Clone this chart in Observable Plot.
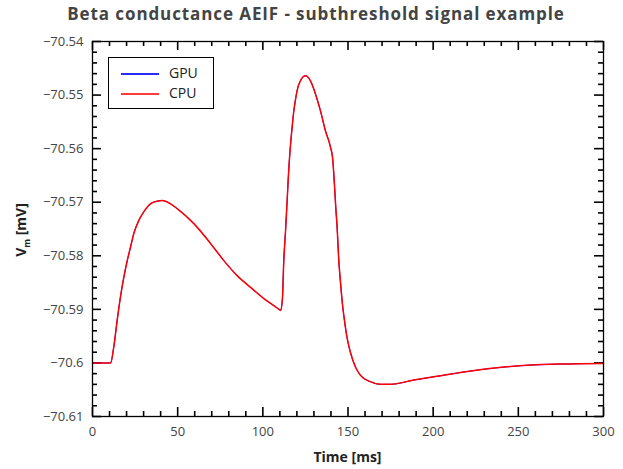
<!DOCTYPE html>
<html>
<head>
<meta charset="utf-8">
<script src="https://cdn.jsdelivr.net/npm/d3@7"></script>
<script src="https://cdn.jsdelivr.net/npm/@observablehq/plot@0.6"></script>
<style>
  body { margin: 0; background: #fff; }
  #wrap { position: relative; width: 623px; height: 469px; font-family: "Open Sans", sans-serif; }
  #title { position: absolute; left: 9px; top: 0; width: 614px; height: 28px; line-height: 27px; text-align: center; font-weight: bold; font-size: 17px; letter-spacing: 0.9px; color: #444; }
  #chart { position: absolute; left: 0; top: 30px; }
  #xlabel { position: absolute; left: 92px; width: 511px; top: 447px; text-align: center; font-weight: bold; font-size: 14px; color: #222; }
  #ylabel { position: absolute; left: 22px; top: 230px; transform: translate(-50%, -50%) rotate(-90deg); white-space: nowrap; font-weight: bold; font-size: 14px; color: #222; }
  #ylabel sub { font-size: 9px; }
  #legend { position: absolute; left: 108px; top: 57px; width: 106px; height: 52px; box-sizing: border-box; border: 1px solid #000; background: #fff; }
  .lg-line { position: absolute; left: 12px; width: 38px; height: 2px; }
  .lg-text { position: absolute; left: 60px; font-size: 14px; color: #222; line-height: 16px; }
</style>
</head>
<body>
<div id="wrap">
  <div id="title">Beta conductance AEIF - subthreshold signal example</div>
  <div id="chart"></div>
  <div id="xlabel">Time [ms]</div>
  <div id="ylabel">V<sub>m</sub> [mV]</div>
  <div id="legend">
    <div class="lg-line" style="top:15px;background:#2a2aff"></div>
    <div class="lg-text" style="top:7px">GPU</div>
    <div class="lg-line" style="top:35px;background:#ff3a3a"></div>
    <div class="lg-text" style="top:27px">CPU</div>
  </div>
</div>
<script>
const seriesNames = ["GPU", "CPU"];
const seriesColors = ["#0000ff", "#ff0000"];
const time = [0, 10, 10.6, 12.5, 14.5, 16.4, 18.4, 20.4, 22.3, 24.2, 27.2, 30.1, 34, 38, 41, 45.8, 49.7, 59.5, 69.3, 77.1, 84.9, 92.8, 100.6, 106.4, 110, 110.4, 111.5, 112.3, 113.3, 114.3, 115.2, 116.2, 117.2, 118.1, 119.1, 120.1, 122.1, 125, 127.9, 130.9, 133.8, 136.7, 139.7, 141, 142, 142.8, 143.6, 144.6, 145.5, 146.7, 147.9, 149.4, 151.4, 154.3, 157.3, 163.1, 169, 175, 188.6, 202.3, 217.9, 237.5, 257, 276.6, 300];
const vmGPU = [-70.6, -70.6, -70.6, -70.597, -70.592, -70.5877, -70.584, -70.5809, -70.5784, -70.5759, -70.5734, -70.5718, -70.5703, -70.5698, -70.5697, -70.5703, -70.5712, -70.574, -70.5777, -70.5809, -70.5837, -70.5859, -70.588, -70.5893, -70.5901, -70.5902, -70.588, -70.5809, -70.5755, -70.5695, -70.564, -70.5595, -70.556, -70.5532, -70.551, -70.5492, -70.5473, -70.5464, -70.5473, -70.5498, -70.5529, -70.5566, -70.5597, -70.5619, -70.5665, -70.5709, -70.5746, -70.5809, -70.5846, -70.5889, -70.592, -70.5952, -70.598, -70.6007, -70.6023, -70.6035, -70.604, -70.604, -70.6032, -70.6025, -70.6017, -70.6009, -70.6004, -70.6002, -70.6001];
const vmCPU = vmGPU.slice();
const xMajor = [0, 50, 100, 150, 200, 250, 300];
const xMinor = [10, 20, 30, 40, 60, 70, 80, 90, 110, 120, 130, 140, 160, 170, 180, 190, 210, 220, 230, 240, 260, 270, 280, 290];
const yMajor = [-70.61, -70.6, -70.59, -70.58, -70.57, -70.56, -70.55, -70.54];
const yMinor = [-70.608, -70.606, -70.604, -70.602, -70.598, -70.596, -70.594, -70.592, -70.588, -70.586, -70.584, -70.582, -70.578, -70.576, -70.574, -70.572, -70.568, -70.566, -70.564, -70.562, -70.558, -70.556, -70.554, -70.552, -70.548, -70.546, -70.544, -70.542];

const gpuData = time.map((t, i) => ({t, v: vmGPU[i]}));
const cpuData = time.map((t, i) => ({t, v: vmCPU[i]}));

const W = 623, H = 439, mT = 11, mL = 92, mR = 20, mB = 53;
const FW = W - mL - mR, FH = H - mT - mB;
const MAJ = 9, MIN = 5;
const TW = 1.6;
const fmt = d3.format("~g");

const tickMarks = [];
for (const [tk, size] of [[xMajor, MAJ], [xMinor, MIN]]) {
  tickMarks.push(Plot.ruleX(tk, {x: d => d, insetTop: FH - size, stroke: "#000", strokeWidth: TW}));
  tickMarks.push(Plot.ruleX(tk, {x: d => d, insetBottom: FH - size, stroke: "#000", strokeWidth: TW}));
}
for (const [tk, size] of [[yMajor, MAJ], [yMinor, MIN]]) {
  tickMarks.push(Plot.ruleY(tk, {y: d => d, insetRight: FW - size, stroke: "#000", strokeWidth: TW}));
  tickMarks.push(Plot.ruleY(tk, {y: d => d, insetLeft: FW - size, stroke: "#000", strokeWidth: TW}));
}

const chart = Plot.plot({
  width: W,
  height: H,
  marginTop: mT,
  marginLeft: mL,
  marginRight: mR,
  marginBottom: mB,
  style: {fontFamily: "Open Sans, sans-serif", fontSize: "13px"},
  x: {domain: [0, 300]},
  y: {domain: [-70.61, -70.54]},
  marks: [
    Plot.axisX({anchor: "bottom", ticks: xMajor, tickSize: 0, tickPadding: 10, tickFormat: fmt, label: null, fill: "#444"}),
    Plot.axisY({anchor: "left", ticks: yMajor, tickSize: 0, tickPadding: 9, tickFormat: fmt, label: null, fill: "#444"}),
    ...tickMarks,
    Plot.line(gpuData, {x: "t", y: "v", stroke: seriesColors[0], strokeWidth: 1, curve: "monotone-x"}),
    Plot.line(cpuData, {x: "t", y: "v", stroke: seriesColors[1], strokeWidth: 1.5, curve: "monotone-x"}),
    Plot.frame({stroke: "#000", strokeWidth: 1.3})
  ]
});
document.getElementById("chart").appendChild(chart);
</script>
</body>
</html>
